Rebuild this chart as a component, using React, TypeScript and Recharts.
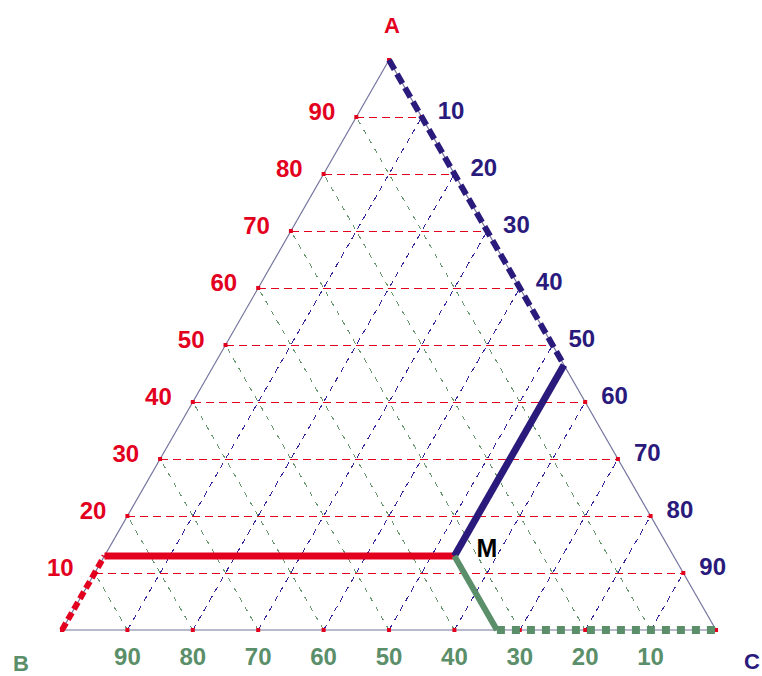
import { ScatterChart, Scatter, XAxis, YAxis, ReferenceLine } from 'recharts';

// percentage ticks along each side of the triangle
const ticks = [10, 20, 30, 40, 50, 60, 70, 80, 90];
const vertexNames = ['A', 'B', 'C'];
// composition of point M (A, B, C in %)
const pointM = { a: 13, b: 33.5, c: 53.5 };

const RED = '#e3001e';
const BLUE = '#2a1a7c';
const GREEN = '#5b8f6a';
const EDGE = '#74749e';
const FONT = '"Liberation Sans", Arial, sans-serif';

// ternary (A, C) -> plane; x = C + A/2, y = A
const toXY = (a: number, c: number) => ({ x: c + a / 2, y: a });

type Pt = { x: number; y: number };
type Seg = [Pt, Pt];

const aLines: Seg[] = ticks.map((t) => [toXY(t, 0), toXY(t, 100 - t)]);
const cLines: Seg[] = ticks.map((t) => [toXY(0, t), toXY(100 - t, t)]);
const bLines: Seg[] = ticks.map((t) => [toXY(0, 100 - t), toXY(100 - t, 0)]);

const vA = toXY(100, 0);
const vB = toXY(0, 0);
const vC = toXY(0, 100);
const M = toXY(pointM.a, pointM.c);
const onAB = toXY(pointM.a, 0);
const onAC = toXY(100 - pointM.c, pointM.c);
const onBC = toXY(0, 100 - pointM.b);

const dots = [
  vA, vB, vC,
  ...ticks.map((t) => toXY(t, 0)),
  ...ticks.map((t) => toXY(t, 100 - t)),
  ...ticks.map((t) => toXY(0, t)),
];

const aLabels = ticks.map((t) => ({ ...toXY(t, 0), text: String(t) }));
const cLabels = ticks.map((t) => ({ ...toXY(100 - t, t), text: String(t) }));
const bLabels = ticks.map((t) => ({ ...toXY(0, 100 - t), text: String(t) }));
const vertexLabels = [
  { ...vA, text: vertexNames[0], dx: 3, dy: -27, fill: RED },
  { ...vB, text: vertexNames[1], dx: -41, dy: 41, fill: GREEN },
  { ...vC, text: vertexNames[2], dx: 36, dy: 39, fill: BLUE },
];
const mLabel = [{ ...M, text: 'M' }];

const textShape =
  (fill: string, dx: number, dy: number, anchor: string, size = 24) =>
  (p: any) =>
    (
      <text
        x={p.cx + dx}
        y={p.cy + dy}
        fill={fill}
        textAnchor={anchor}
        fontSize={size}
        fontWeight="bold"
        fontFamily={FONT}
      >
        {p.payload.text}
      </text>
    );

const vertexShape = (p: any) => (
  <text
    x={p.cx + p.payload.dx}
    y={p.cy + p.payload.dy}
    fill={p.payload.fill}
    textAnchor="middle"
    fontSize={22}
    fontWeight="bold"
    fontFamily={FONT}
  >
    {p.payload.text}
  </text>
);

const dotShape = (p: any) => <rect x={p.cx - 2} y={p.cy - 2} width={4} height={4} fill={RED} />;

const seg = (s: Seg, key: string, stroke: string, dash: string) => (
  <ReferenceLine
    key={key}
    segment={s}
    stroke={stroke}
    strokeWidth={1}
    strokeDasharray={dash}
    shapeRendering="crispEdges"
    ifOverflow="visible"
  />
);

// thick reading lines, lifted above the tick dots
const thick = (s: Seg, key: string, stroke: string, width: number, dash?: string) => (
  <ReferenceLine
    key={key}
    segment={s}
    stroke={stroke}
    strokeWidth={width}
    strokeDasharray={dash}
    ifOverflow="visible"
    zIndex={700}
  />
);

export default function App() {
  return (
    <div style={{ position: 'absolute', left: 0, top: 0, background: '#fff' }}>
      <ScatterChart width={762} height={676} margin={{ top: 0, right: 0, bottom: 0, left: 0 }}>
        <XAxis type="number" dataKey="x" domain={[-9.48, 107.03]} hide allowDataOverflow />
        <YAxis type="number" dataKey="y" domain={[-8.07, 110.53]} hide allowDataOverflow />

        {aLines.map((s, i) => seg(s, 'a' + i, RED, '8 5'))}
        {cLines.map((s, i) => seg(s, 'c' + i, '#34259a', '6 5'))}
        {bLines.map((s, i) => seg(s, 'b' + i, '#66976f', '5 6'))}

        <ReferenceLine segment={[vA, vB]} stroke={EDGE} strokeWidth={1.2} ifOverflow="visible" />
        <ReferenceLine segment={[vB, vC]} stroke={EDGE} strokeWidth={1.2} ifOverflow="visible" />
        <ReferenceLine segment={[vC, vA]} stroke={EDGE} strokeWidth={1.2} ifOverflow="visible" />

        <Scatter data={dots} shape={dotShape} isAnimationActive={false} />

        {thick([vB, onAB], 'rd', RED, 6, '8 4')}
        {thick([onAB, M], 'rs', RED, 7)}
        {thick([vA, onAC], 'bd', BLUE, 6, '11 5')}
        {thick([M, onAC], 'bs', BLUE, 7)}
        {thick([M, onBC], 'gs', GREEN, 6)}
        {thick([onBC, vC], 'gd', GREEN, 8, '8 7')}

        <Scatter data={aLabels} shape={textShape(RED, -21, 2.5, 'end')} isAnimationActive={false} />
        <Scatter data={cLabels} shape={textShape(BLUE, 16, 1.5, 'start')} isAnimationActive={false} />
        <Scatter data={bLabels} shape={textShape(GREEN, 0, 35, 'middle')} isAnimationActive={false} />
        <Scatter data={vertexLabels} shape={vertexShape} isAnimationActive={false} />
        <Scatter data={mLabel} shape={textShape('#000', 22, 1, 'start', 25)} isAnimationActive={false} />
      </ScatterChart>
    </div>
  );
}
